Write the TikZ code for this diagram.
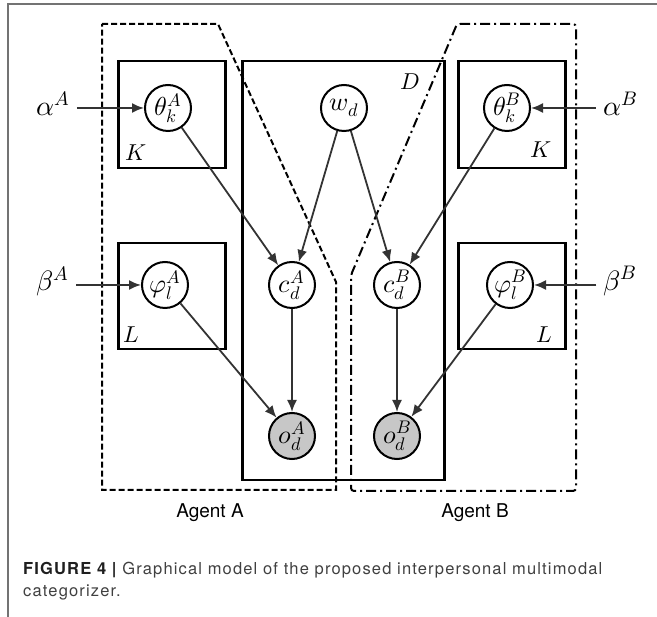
\documentclass[tikz,border=0pt]{standalone}
\usepackage{fontspec}
\usepackage{unicode-math}
\setmathfont{Latin Modern Math}
\setsansfont{TeX Gyre Heros}
\usetikzlibrary{arrows.meta}
\tikzset{
    % Filled triangular head for every edge of the model
    >={Latex[length=12pt, width=10pt]},
%
    % A random variable of the model
    latent/.style={
        draw, circle, line width=2pt, fill=white,
        minimum size=46pt, inner sep=0pt,
        font=\fontsize{26}{30}\selectfont},
    % An observed variable is shaded
    observed/.style={latent, fill=black!22},
%
    % Hyperparameters outside the plates
    hyper/.style={inner sep=7pt, font=\fontsize{28}{32}\selectfont},
    % Plate rectangles and their size labels
    plate/.style={draw, line width=2.5pt, inner sep=0pt, anchor=north west},
    plate index/.style={inner sep=0pt, font=\fontsize{23}{27}\selectfont},
%
    % Directed dependency
    edge/.style={->, line width=1.8pt, draw=black!80},
%
    % Outlines grouping the two agents
    agent a line/.style={line width=2pt, dash pattern=on 6pt off 3pt},
    agent b line/.style={line width=2pt, rounded corners=3pt,
        dash pattern=on 10pt off 4pt on 2pt off 4pt},
    agent label/.style={font=\sffamily\fontsize{19}{23}\selectfont},
%
    % Text of the caption
    caption text/.style={anchor=base west, inner sep=0pt, text=black!75,
        font=\sffamily\fontsize{16.5}{20}\selectfont\addfontfeatures{LetterSpace=7}}}

\begin{document}
\begin{tikzpicture}[x=1pt, y=-1pt]
\useasboundingbox (0,0) rectangle (657,617);

% page frame
\draw [black!55, line width=1.5pt] (8,617) -- (8,4) -- (657,4);

% agents
\draw [agent a line]
    (102,24) -- (218,24) -- (336,282) -- (336,490) -- (102,490) -- cycle;
\draw [agent b line]
    (457,24) -- (576,24) -- (576,491) -- (351,491) -- (351,275) -- cycle;
\node [agent label] (agent a) at (210,513) {Agent A};
\node [agent label] (agent b) at (475,513) {Agent B};

% plates
\node [plate, minimum width=202pt, minimum height=419pt]
    (plate d) at (241,60) {};
\node [plate, minimum width=107pt, minimum height=107pt]
    (plate k a) at (117,60) {};
\node [plate, minimum width=107pt, minimum height=106pt]
    (plate l a) at (117,242) {};
\node [plate, minimum width=107pt, minimum height=107pt]
    (plate k b) at (457,60) {};
\node [plate, minimum width=107pt, minimum height=106pt]
    (plate l b) at (457,242) {};
\node [plate index] at (410,82) {$D$};
\node [plate index] at (136,153) {$K$};
\node [plate index] at (541,150) {$K$};
\node [plate index] at (131,335) {$L$};
\node [plate index] at (544,335) {$L$};

% variables
\node [latent] (theta a) at (168,108) {$\theta_k^A$};
\node [latent] (w) at (344,108) {$w_d$};
\node [latent] (theta b) at (507,108) {$\theta_k^B$};
\node [latent] (phi a) at (165,285) {$\varphi_l^A$};
\node [latent] (c a) at (292,285) {$c_d^A$};
\node [latent] (c b) at (397,285) {$c_d^B$};
\node [latent] (phi b) at (510,285) {$\varphi_l^B$};
\node [observed] (o a) at (292,436) {$o_d^A$};
\node [observed] (o b) at (397,436) {$o_d^B$};

\node [hyper] (alpha a) at (53,104) {$\alpha^A$};
\node [hyper] (alpha b) at (620,104) {$\alpha^B$};
\node [hyper] (beta a) at (53,281) {$\beta^A$};
\node [hyper] (beta b) at (620,281) {$\beta^B$};

% dependencies
\draw [edge] (alpha a.east |- theta a) -- (theta a);
\draw [edge] (alpha b.west |- theta b) -- (theta b);
\draw [edge] (beta a.east |- phi a) -- (phi a);
\draw [edge] (beta b.west |- phi b) -- (phi b);
\draw [edge] (theta a) -- (c a);
\draw [edge] (w) -- (c a);
\draw [edge] (w) -- (c b);
\draw [edge] (theta b) -- (c b);
\draw [edge] (c a) -- (o a);
\draw [edge] (c b) -- (o b);
\draw [edge] (phi a) -- (o a);
\draw [edge] (phi b) -- (o b);

% caption
\node [caption text] (caption top) at (23,575)
    {\textcolor{black!88}{\bfseries FIGURE 4 |} Graphical model of the proposed interpersonal multimodal};
\node [caption text] (caption bottom) at (23,597) {categorizer.};

\end{tikzpicture}
\end{document}
